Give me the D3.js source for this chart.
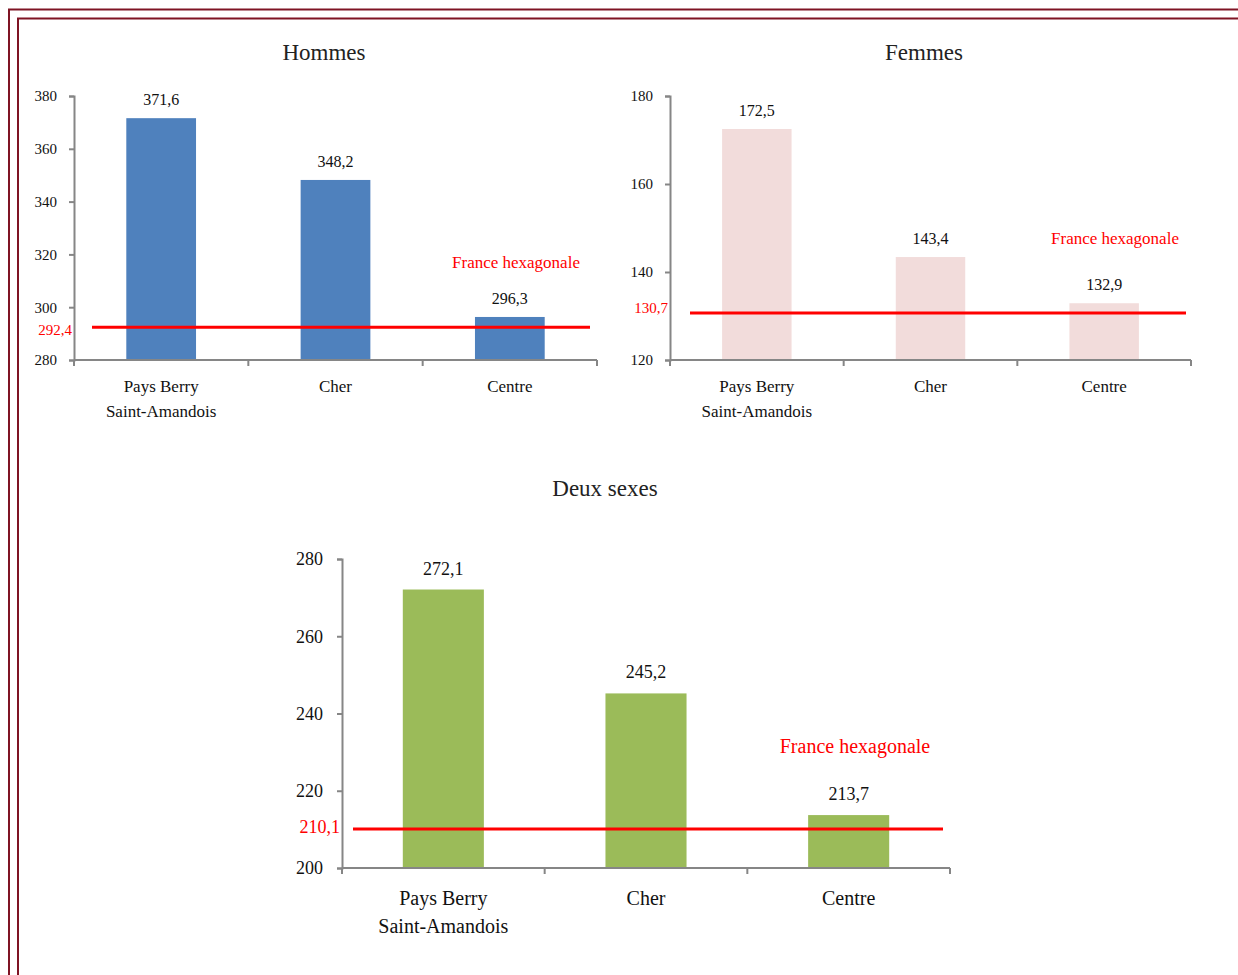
<!DOCTYPE html>
<html>
<head>
<meta charset="utf-8">
<script src="https://cdn.jsdelivr.net/npm/d3@7"></script>
<style>
  body { margin: 0; background: #fff; }
  svg text { font-family: "Liberation Serif", "DejaVu Serif", serif; }
</style>
</head>
<body>
<svg id="drawing_region" width="1238" height="975"></svg>
<script>
const categories = ["Pays Berry|Saint-Amandois", "Cher", "Centre"];
const hommes = [371.6, 348.2, 296.3];
const femmes = [172.5, 143.4, 132.9];
const deuxSexes = [272.1, 245.2, 213.7];
const franceRef = { hommes: 292.4, femmes: 130.7, deux: 210.1 };
const ticksHommes = [280, 300, 320, 340, 360, 380];
const ticksFemmes = [120, 140, 160, 180];
const ticksDeux = [200, 220, 240, 260, 280];

const fmt = v => d3.format(".1f")(v).replace(".", ",");
const svg = d3.select('#drawing_region');

// double cadre
svg.append('rect').attr('x', 9).attr('y', 9.5).attr('width', 1260).attr('height', 1000)
    .attr('fill', 'none').attr('stroke', '#7f1424').attr('stroke-width', 2);
svg.append('rect').attr('x', 18).attr('y', 18.5).attr('width', 1260).attr('height', 1000)
    .attr('fill', 'none').attr('stroke', '#7f1424').attr('stroke-width', 2);

function drawChart(cfg) {
    const g = svg.append('g');
    const xscale = d3.scaleBand().domain(categories).range([cfg.x0, cfg.x1])
        .paddingInner(0.6).paddingOuter(0.3);
    const yscale = d3.scaleLinear().domain(cfg.domain).range([cfg.y1, cfg.y0]);

    // titre
    g.append('text').attr('x', cfg.titleX).attr('y', cfg.titleY)
        .attr('text-anchor', 'middle').attr('font-size', cfg.titleSize).attr('fill', '#222')
        .text(cfg.title);

    // barres
    g.selectAll('rect.bar').data(cfg.values).enter().append('rect')
        .attr('class', 'bar')
        .attr('x', (d, i) => xscale(categories[i]))
        .attr('width', xscale.bandwidth())
        .attr('y', d => yscale(d))
        .attr('height', d => yscale(cfg.domain[0]) - yscale(d))
        .attr('fill', cfg.color);

    g.selectAll('text.val').data(cfg.values).enter().append('text')
        .attr('class', 'val')
        .attr('x', (d, i) => xscale(categories[i]) + xscale.bandwidth() / 2)
        .attr('y', d => yscale(d) - cfg.valOffset)
        .attr('text-anchor', 'middle').attr('font-size', cfg.valSize).attr('fill', '#111')
        .text(d => fmt(d));

    // axe y
    const yaxis = d3.axisLeft(yscale).tickValues(cfg.ticks).tickSize(5).tickPadding(cfg.tickPad)
        .tickFormat(d => d);
    const yg = g.append('g').attr('transform', `translate(${cfg.x0}, 0)`).call(yaxis);
    yg.attr('font-family', null);
    yg.select('.domain').attr('stroke', '#868686').attr('stroke-width', 2);
    yg.selectAll('.tick line').attr('stroke', '#868686').attr('stroke-width', 2);
    yg.selectAll('.tick text').attr('font-size', cfg.tickSize).attr('fill', '#111');

    // axe x
    const xg = g.append('g').attr('transform', `translate(0, ${cfg.y1})`);
    xg.append('line').attr('x1', cfg.x0).attr('x2', cfg.x1).attr('stroke', '#868686').attr('stroke-width', 2);
    const bounds = d3.range(categories.length + 1).map(i => cfg.x0 + i * (cfg.x1 - cfg.x0) / categories.length);
    xg.selectAll('line.tk').data(bounds).enter().append('line')
        .attr('x1', d => d).attr('x2', d => d).attr('y1', 0).attr('y2', 6)
        .attr('stroke', '#868686').attr('stroke-width', 2);
    categories.forEach(c => {
        const t = xg.append('text').attr('text-anchor', 'middle')
            .attr('font-size', cfg.catSize).attr('fill', '#111');
        c.split('|').forEach((line, j) => {
            t.append('tspan').attr('x', xscale(c) + xscale.bandwidth() / 2)
                .attr('y', cfg.catY + j * cfg.catLine).text(line);
        });
    });

    // ligne France hexagonale
    const ry = yscale(cfg.ref);
    g.append('line').attr('x1', cfg.refX0).attr('x2', cfg.refX1)
        .attr('y1', ry).attr('y2', ry).attr('stroke', '#ff0000').attr('stroke-width', 3);
    g.append('text').attr('x', cfg.x0 - 2).attr('y', ry + cfg.refLabDy)
        .attr('text-anchor', 'end').attr('font-size', cfg.tickSize).attr('fill', '#ff0000')
        .text(fmt(cfg.ref));
    g.append('text').attr('x', cfg.franceX).attr('y', cfg.franceY)
        .attr('text-anchor', 'middle').attr('font-size', cfg.franceSize).attr('fill', '#ff0000')
        .text('France hexagonale');
}

drawChart({
    title: 'Hommes', titleX: 324, titleY: 60, titleSize: 23,
    values: hommes, ref: franceRef.hommes, ticks: ticksHommes, domain: [280, 380],
    x0: 74, x1: 597, y0: 96, y1: 360, color: '#4f81bd',
    valOffset: 13, valSize: 16, tickSize: 15, tickPad: 12, catSize: 17, catY: 32, catLine: 25,
    refX0: 92, refX1: 590, refLabDy: 8, franceX: 516, franceY: 268, franceSize: 17
});

drawChart({
    title: 'Femmes', titleX: 924, titleY: 60, titleSize: 23,
    values: femmes, ref: franceRef.femmes, ticks: ticksFemmes, domain: [120, 180],
    x0: 670, x1: 1191, y0: 96, y1: 360, color: '#f2dcdb',
    valOffset: 13, valSize: 16, tickSize: 15, tickPad: 12, catSize: 17, catY: 32, catLine: 25,
    refX0: 690, refX1: 1186, refLabDy: 0, franceX: 1115, franceY: 244, franceSize: 17
});

drawChart({
    title: 'Deux sexes', titleX: 605, titleY: 496, titleSize: 23,
    values: deuxSexes, ref: franceRef.deux, ticks: ticksDeux, domain: [200, 280],
    x0: 342, x1: 950, y0: 559, y1: 868, color: '#9bbb59',
    valOffset: 15, valSize: 18, tickSize: 18, tickPad: 14, catSize: 20, catY: 37, catLine: 28,
    refX0: 353, refX1: 943, refLabDy: 4, franceX: 855, franceY: 753, franceSize: 20
});
</script>
</body>
</html>
